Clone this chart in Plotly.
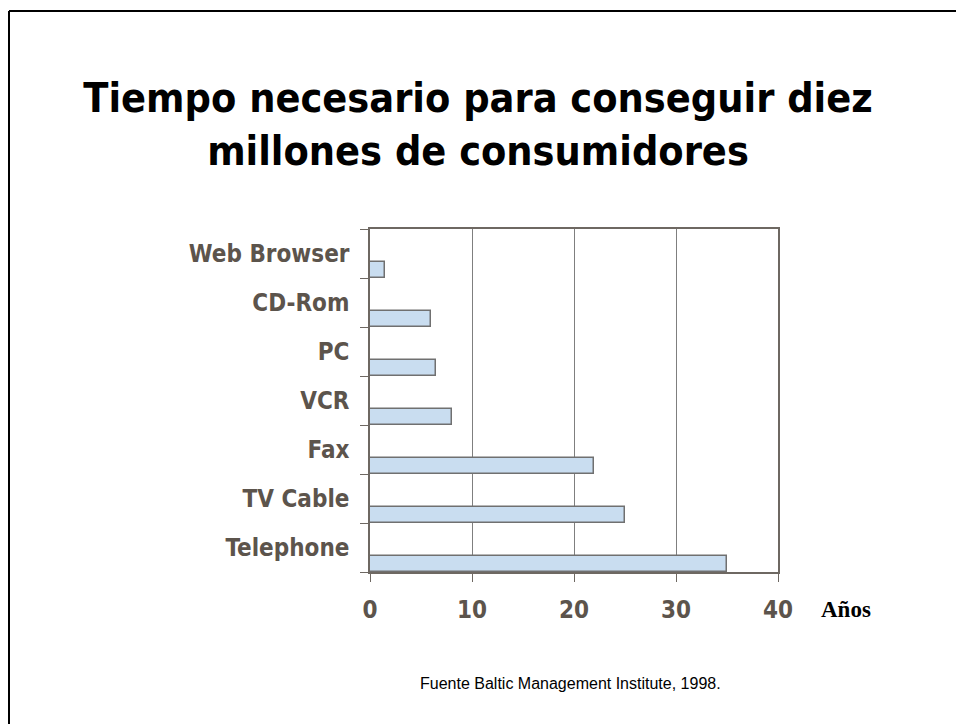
import plotly.graph_objects as go

# Products, bottom to top, and years needed to reach ten million consumers
categories = ["Telephone", "TV Cable", "Fax", "VCR", "PC", "CD-Rom", "Web Browser"]
years = [35, 25, 22, 8, 6.5, 6, 1.5]
x_ticks = [0, 10, 20, 30, 40]

W, H = 956, 724
L, R, T, B = 370, 178, 229, 152
pw, ph = W - L - R, H - T - B

def px_x(px):
    return (px - L) / pw

def px_y(py):
    return (H - B - py) / ph

label_color = "#5C544C"
axis_color = "#6E6862"
heading_font = "DejaVu Sans Condensed"

fig = go.Figure(
    go.Bar(
        y=categories,
        x=years,
        orientation="h",
        width=0.33,
        offset=-0.5,
        marker=dict(color="#C9DDF0", line=dict(color="#707070", width=1.5)),
        hoverinfo="x+y",
    )
)

fig.update_layout(
    width=W,
    height=H,
    margin=dict(l=L, r=R, t=T, b=B, autoexpand=False),
    paper_bgcolor="white",
    plot_bgcolor="white",
    showlegend=False,
    bargap=0,
    title=dict(
        text="Tiempo necesario para conseguir diez<br>millones de consumidores",
        font=dict(family=heading_font, size=41, color="black", weight="bold"),
        x=0.5,
        xanchor="center",
        xref="container",
        y=1 - 112 / H,
        yanchor="middle",
        yref="container",
    ),
)

fig.update_xaxes(
    range=[0, 40],
    tickvals=x_ticks,
    ticktext=[str(v) for v in x_ticks],
    showgrid=True,
    gridcolor="#7F7F7F",
    gridwidth=1,
    zeroline=False,
    showline=True,
    linecolor=axis_color,
    linewidth=1.5,
    mirror=True,
    ticks="outside",
    ticklen=8,
    tickcolor=axis_color,
    ticklabelstandoff=7,
    tickfont=dict(family=heading_font, size=24, color=label_color, weight="bold"),
    fixedrange=True,
)

fig.update_yaxes(
    categoryorder="array",
    categoryarray=categories,
    range=[-0.5, len(categories) - 0.5],
    showgrid=False,
    zeroline=False,
    showline=True,
    linecolor=axis_color,
    linewidth=1.5,
    mirror=True,
    ticks="outside",
    tickson="boundaries",
    ticklen=8,
    tickcolor=axis_color,
    ticklabelstandoff=14,
    tickfont=dict(family=heading_font, size=24, color=label_color, weight="bold"),
    fixedrange=True,
)

# Axis unit label and source note
fig.add_annotation(
    text="<b>Años</b>",
    x=px_x(846), y=px_y(609), xref="paper", yref="paper",
    showarrow=False, xanchor="center", yanchor="middle",
    font=dict(family="Liberation Serif", size=23, color="black"),
)
fig.add_annotation(
    text="Fuente Baltic Management Institute, 1998.",
    x=px_x(570), y=px_y(683), xref="paper", yref="paper",
    showarrow=False, xanchor="center", yanchor="middle",
    font=dict(family="Liberation Sans", size=16, color="black"),
)

# Slide frame: left and top edges
fig.add_shape(type="line", xref="paper", yref="paper",
              x0=px_x(9), x1=px_x(9), y0=px_y(11), y1=px_y(H + 2),
              line=dict(color="black", width=2))
fig.add_shape(type="line", xref="paper", yref="paper",
              x0=px_x(9), x1=px_x(W + 2), y0=px_y(11), y1=px_y(11),
              line=dict(color="black", width=2))

fig.write_html("out.html")
